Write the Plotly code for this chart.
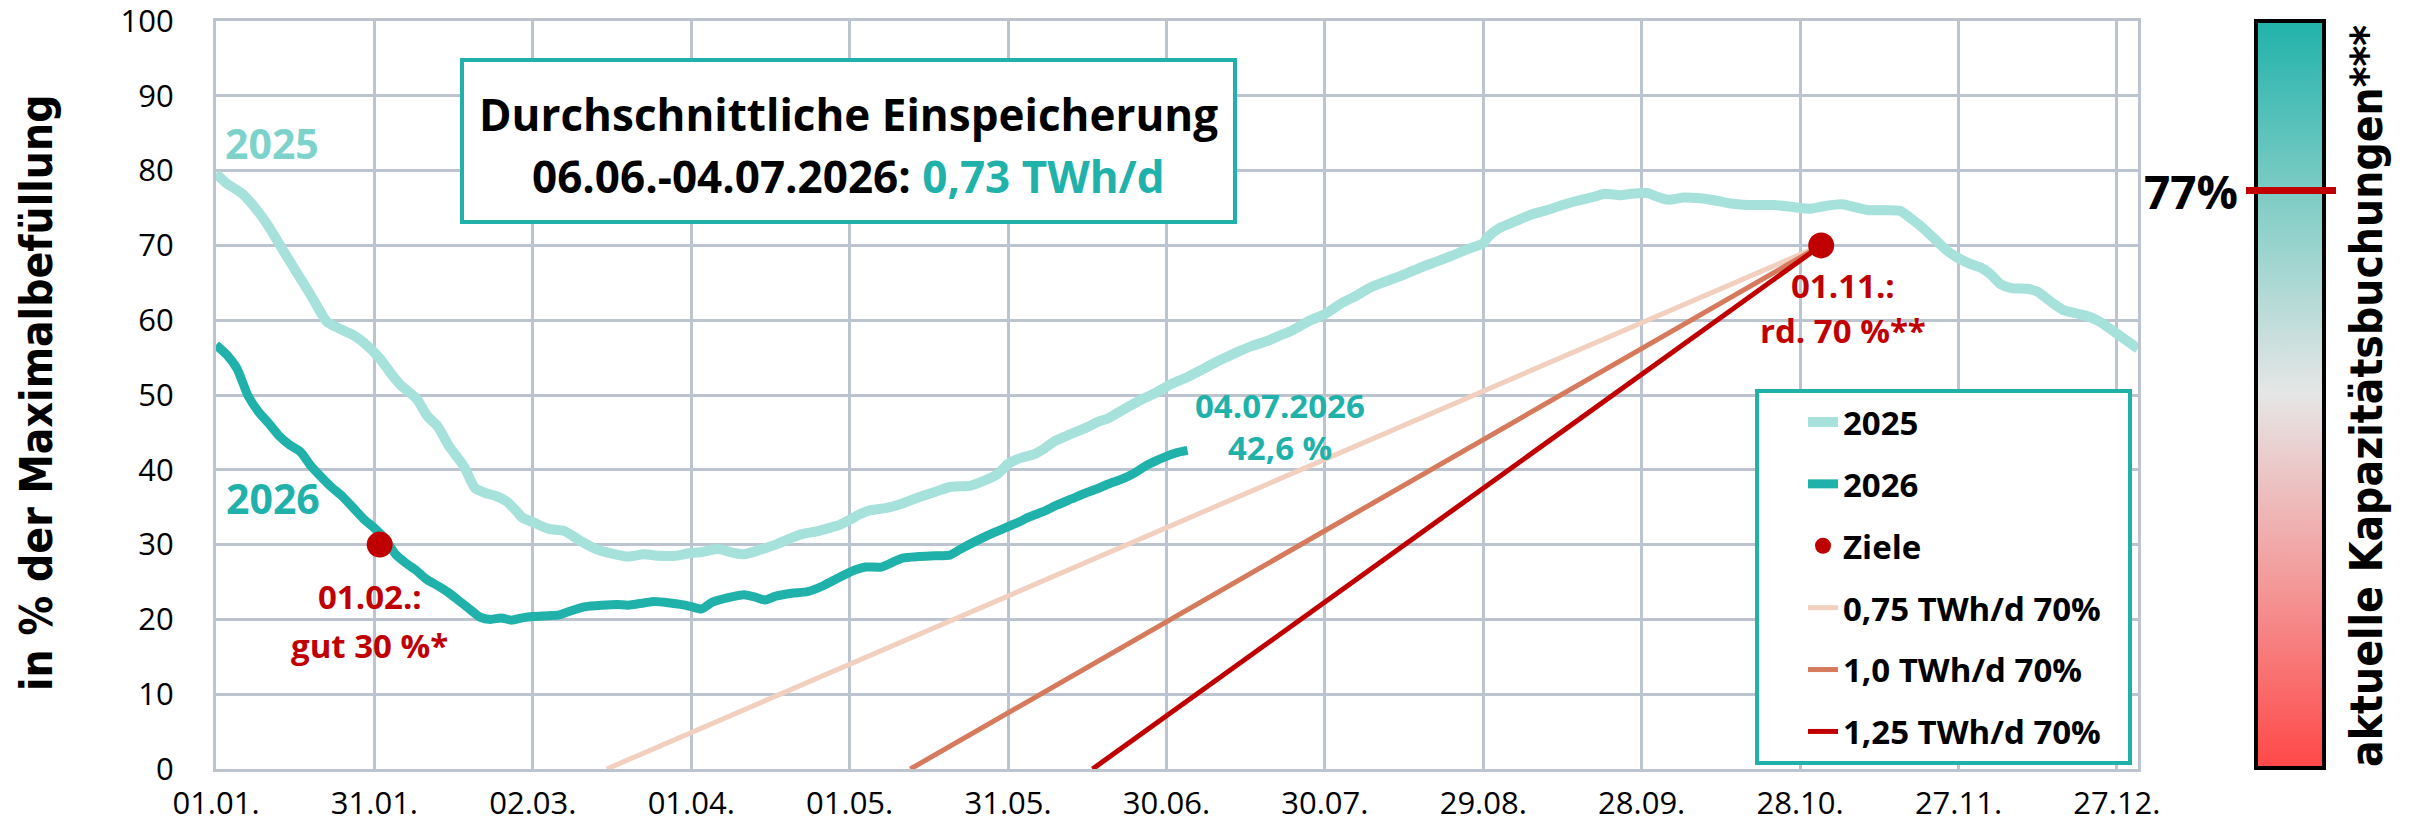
import plotly.graph_objects as go

# ---------------- data ----------------
days_2025 = [0, 2, 5, 8, 10, 13, 15, 18, 21, 23, 26, 28, 31, 33, 35, 38, 40, 42, 44, 47, 49, 51, 53, 55, 57, 58,
             60, 63, 66, 69, 72, 75, 78, 81, 84, 87, 90, 92, 95, 98, 100, 103, 106, 109, 111, 114, 116, 118, 120,
             122, 124, 127, 130, 133, 136, 139, 143, 146, 148, 150, 152, 155, 157, 159, 162, 165, 167, 169, 171,
             173, 175, 178, 181, 184, 187, 190, 193, 196, 199, 201, 204, 207, 210, 213, 216, 219, 222, 225, 228,
             231, 234, 237, 240, 241, 243, 246, 249, 252, 255, 258, 261, 263, 266, 268, 271, 273, 275, 278, 281,
             284, 287, 290, 295, 299, 302, 305, 308, 311, 313, 316, 319, 321, 323, 326, 328, 330, 332, 334, 336,
             338, 340, 343, 345, 348, 350, 353, 355, 357, 360, 362, 364]
vals_2025 = [79.6, 78.3, 76.9, 74.5, 72.5, 69.0, 66.7, 63.3, 59.8, 59.0, 58.0, 57.0, 54.9, 53.0, 51.3, 49.5, 47.2,
             45.8, 43.3, 40.4, 37.6, 36.9, 36.5, 35.8, 34.4, 33.6, 33.0, 32.1, 31.8, 30.5, 29.4, 28.8, 28.4, 28.7,
             28.5, 28.5, 28.9, 29.0, 29.4, 28.9, 28.7, 29.3, 30.0, 30.9, 31.4, 31.8, 32.2, 32.6, 33.3, 34.1, 34.6,
             34.9, 35.5, 36.3, 37.0, 37.7, 37.9, 38.7, 39.4, 40.8, 41.5, 42.1, 42.9, 43.9, 44.8, 45.7, 46.4, 46.9,
             47.7, 48.5, 49.3, 50.3, 51.5, 52.4, 53.5, 54.6, 55.6, 56.5, 57.2, 57.8, 58.7, 59.9, 60.8, 62.2, 63.3,
             64.5, 65.3, 66.1, 67.0, 67.8, 68.6, 69.5, 70.3, 71.2, 72.3, 73.2, 74.1, 74.7, 75.4, 76.0, 76.5, 76.9,
             76.7, 76.9, 77.0, 76.5, 76.1, 76.4, 76.3, 76.0, 75.6, 75.4, 75.4, 75.1, 74.9, 75.3, 75.5, 75.0, 74.7,
             74.7, 74.6, 73.6, 72.5, 70.5, 69.2, 68.3, 67.6, 67.1, 66.2, 64.8, 64.3, 64.2, 63.8, 62.2, 61.3, 60.8,
             60.4, 59.7, 58.2, 57.2, 56.2]

days_2026 = [0, 2, 4, 6, 8, 10, 12, 14, 16, 18, 20, 22, 24, 26, 28, 30, 32, 34, 36, 38, 40, 42, 44, 46, 48, 50,
             52, 54, 56, 58, 60, 63, 65, 67, 70, 73, 76, 78, 81, 83, 86, 88, 90, 92, 94, 97, 100, 102, 104, 106,
             109, 112, 115, 118, 121, 123, 126, 128, 130, 133, 136, 139, 141, 144, 147, 150, 152, 154, 157, 159,
             162, 164, 167, 169, 172, 174, 176, 178, 180, 182, 184]
vals_2026 = [56.7, 55.4, 53.5, 50.0, 47.8, 46.2, 44.5, 43.3, 42.4, 40.5, 39.0, 37.6, 36.4, 34.9, 33.4, 32.2, 30.8,
             28.7, 27.5, 26.5, 25.3, 24.5, 23.6, 22.5, 21.4, 20.3, 20.0, 20.2, 19.9, 20.2, 20.4, 20.5, 20.6, 21.1,
             21.7, 21.9, 22.0, 21.9, 22.2, 22.4, 22.2, 22.0, 21.7, 21.4, 22.3, 22.9, 23.3, 23.0, 22.6, 23.1, 23.5,
             23.7, 24.5, 25.6, 26.6, 27.0, 27.0, 27.6, 28.2, 28.4, 28.5, 28.6, 29.4, 30.5, 31.5, 32.4, 33.0, 33.7,
             34.5, 35.2, 36.1, 36.7, 37.5, 38.1, 38.9, 39.6, 40.5, 41.2, 41.8, 42.3, 42.6]

target_days = [31, 304]          # 01.02. and 01.11.
target_values = [30, 70]

rate_labels = ["0,75 TWh/d 70%", "1,0 TWh/d 70%", "1,25 TWh/d 70%"]
rate_start_days = [74, 131.5, 166]
rate_end_day = 304
rate_values = [0, 70]
rate_colors = ["#F1D0C0", "#D67A5E", "#C00000"]

booking_level = 77               # aktuelle Kapazitätsbuchungen in %

tick_days = [0, 30, 60, 90, 120, 150, 180, 210, 240, 270, 300, 330, 360]
tick_labels = ["01.01.", "31.01.", "02.03.", "01.04.", "01.05.", "31.05.", "30.06.",
               "30.07.", "29.08.", "28.09.", "28.10.", "27.11.", "27.12."]

# ---------------- layout helpers ----------------
W, H = 2420, 823
ML, MR, MT, MB = 216, 282, 21, 54
PW, PH = W - ML - MR, H - MT - MB


def px(x):
    return (x - ML) / PW


def py(y):
    return (H - MB - y) / PH


TEAL = "#20B2AA"
TEAL_LIGHT = "#A6E1DC"
RED = "#C00000"
GRID = "#BCC5CF"
FONT = "Open Sans"
WIDE = "DejaVu Sans Condensed, DejaVu Sans"

fig = go.Figure()

for i, lab in enumerate(rate_labels):
    fig.add_trace(go.Scatter(
        x=[rate_start_days[i], rate_end_day], y=rate_values, mode="lines", name=lab,
        line=dict(color=rate_colors[i], width=5), legendgroup=lab, legendrank=4 + i,
        hoverinfo="skip"))

fig.add_trace(go.Scatter(x=days_2025, y=vals_2025, mode="lines", name="2025",
                         line=dict(color=TEAL_LIGHT, width=10, shape="spline", smoothing=0.6),
                         legendgroup="2025", legendrank=1))
fig.add_trace(go.Scatter(x=days_2026, y=vals_2026, mode="lines", name="2026",
                         line=dict(color=TEAL, width=9, shape="spline", smoothing=0.6),
                         legendgroup="2026", legendrank=2))
fig.add_trace(go.Scatter(x=target_days, y=target_values, mode="markers", name="Ziele",
                         marker=dict(color=RED, size=26), legendgroup="Ziele", legendrank=3))

# colour bar for current capacity bookings
fig.add_trace(go.Scatter(
    x=[None], y=[None], mode="markers", showlegend=False, hoverinfo="skip",
    marker=dict(color=[booking_level], cmin=0, cmax=100, showscale=True,
                colorscale=[[0, "#FF4848"], [0.25, "#F39A9A"], [0.5, "#E6E6E6"],
                            [0.75, "#84CEC7"], [1, "#20B2AA"]],
                colorbar=dict(thickness=68, thicknessmode="pixels", len=747, lenmode="pixels",
                              x=px(2256), xanchor="left", y=py(394), yanchor="middle",
                              outlinecolor="black", outlinewidth=4, showticklabels=False,
                              ticks="", xpad=0, ypad=0))))

shapes = [
    # info box
    dict(type="rect", xref="paper", yref="paper", x0=px(462), x1=px(1235), y0=py(222), y1=py(60),
         line=dict(color=TEAL, width=4), fillcolor="white", layer="above"),
    # legend box
    dict(type="rect", xref="paper", yref="paper", x0=px(1757), x1=px(2130), y0=py(763), y1=py(391),
         line=dict(color=TEAL, width=4), fillcolor="white", layer="above"),
]

bar_top, bar_bot = 18, 769
marker_px = bar_bot - booking_level / 100 * (bar_bot - bar_top)


def ann(text, x, y, size, color="black", family=FONT, xanchor="center", angle=0, bold=True):
    t = f"<b>{text}</b>" if bold else text
    return dict(text=t, x=px(x), y=py(y), xref="paper", yref="paper", showarrow=False,
                xanchor=xanchor, yanchor="middle", textangle=angle,
                font=dict(family=family, size=size, color=color))


annotations = [
    ann("Durchschnittliche Einspeicherung", 848, 114, 44),
    ann(f"06.06.-04.07.2026: <span style='color:{TEAL}'>0,73 TWh/d</span>", 848, 176, 44),
    ann("2025", 272, 143, 41, "#7DD3CB"),
    ann("2026", 273, 498, 41, TEAL),
    ann("01.02.:", 370, 596, 33, RED),
    ann("gut 30 %*", 369, 645, 33, RED),
    ann("04.07.2026", 1280, 406, 33, TEAL),
    ann("42,6 %", 1280, 448, 33, TEAL),
    ann("01.11.:", 1843, 285, 33, RED),
    ann("rd. 70 %**", 1843, 330, 33, RED),
    ann(f"{booking_level}%", 2240, 191, 46, "black", xanchor="right"),
    ann("in % der Maximalbefüllung", 36, 393, 44, "black", family=WIDE, angle=-90),
    ann("aktuelle Kapazitätsbuchungen***", 2366, 396, 44, "black", family=WIDE, angle=-90),
    # red level marker on the colour bar
    dict(text="\u00a0", x=px(2291), y=py(marker_px), xref="paper", yref="paper", showarrow=False,
         xanchor="center", yanchor="middle", width=90, height=7, bgcolor=RED, borderpad=0,
         borderwidth=0, font=dict(size=2, color=RED)),
]

fig.update_layout(
    width=W, height=H,
    margin=dict(l=ML, r=MR, t=MT, b=MB, autoexpand=False),
    paper_bgcolor="white", plot_bgcolor="white",
    font=dict(family=FONT, color="black"),
    showlegend=True,
    legend=dict(x=px(1803), y=py(394), xanchor="left", yanchor="top",
                bgcolor="rgba(0,0,0,0)", borderwidth=0,
                font=dict(family=FONT, size=33, color="black", weight="bold"),
                traceorder="grouped", tracegroupgap=16, itemwidth=30),
    shapes=shapes,
    annotations=annotations,
    xaxis=dict(range=[0, 364], tickvals=tick_days, ticktext=tick_labels,
               showgrid=True, gridcolor=GRID, gridwidth=3,
               showline=True, linecolor=GRID, linewidth=3, mirror=True,
               zeroline=False, ticks="", ticklabelstandoff=5, ticklabeloverflow="allow",
               tickfont=dict(family=FONT, size=31, color="black"), automargin=False),
    yaxis=dict(range=[0, 100], tickvals=list(range(0, 101, 10)),
               showgrid=True, gridcolor=GRID, gridwidth=3,
               showline=True, linecolor=GRID, linewidth=3, mirror=True,
               zeroline=False, ticks="", ticklabelstandoff=33, ticklabeloverflow="allow",
               tickfont=dict(family=FONT, size=31, color="black"), automargin=False),
)

fig.write_html("out.html", config={"displayModeBar": False},
               post_script="document.body.style.margin='0';document.body.style.overflow='hidden';")
